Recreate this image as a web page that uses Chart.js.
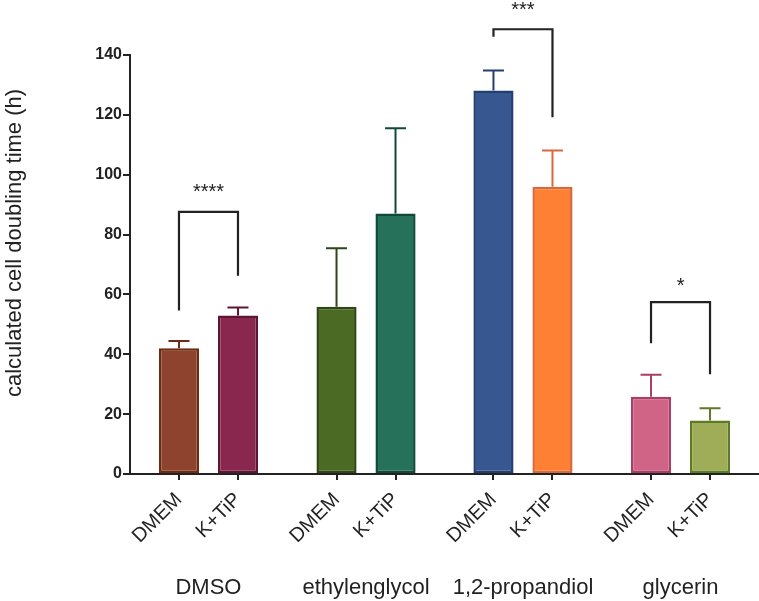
<!DOCTYPE html>
<html>
<head>
<meta charset="utf-8">
<script src="https://cdn.jsdelivr.net/npm/chart.js@4.4.0/dist/chart.umd.min.js"></script>
<style>
  html, body { margin: 0; padding: 0; background: #fff; }
  canvas { display: block; }
</style>
</head>
<body>
<canvas id="doublingChart" width="759" height="601"></canvas>
<script>
// bar labels, group names and where each bar sits on the x scale
const tickLabels = ['DMEM', 'K+TiP', 'DMEM', 'K+TiP', 'DMEM', 'K+TiP', 'DMEM', 'K+TiP'];
const groups = ['DMSO', 'ethylenglycol', '1,2-propandiol', 'glycerin'];
const xPos = [0, 1, 2.67, 3.67, 5.33, 6.33, 8, 9];

// mean doubling time (h) and upper error (h)
const means = [42.0, 53.0, 55.9, 87.0, 128.1, 96.0, 25.8, 17.9];
const errUp = [2.4, 2.6, 19.5, 28.5, 6.7, 12.1, 7.4, 4.1];

const fills = ['#8e432f', '#8a274e', '#4b6a24', '#26715a', '#36578f', '#fd8034', '#cf6487', '#a0ad58'];
const edges = ['#6f2a12', '#5f1535', '#2f4615', '#10493a', '#223f70', '#d8693d', '#a93f66', '#5e7a25'];

// significance brackets: bar indexes, bracket top, leg ends, label height (all in hours)
const brackets = [
  { from: 0, to: 1, top: 87.6, left: 54.6, right: 66.2, label: '****', labelY: 96 },
  { from: 4, to: 5, top: 148.6, left: 146.1, right: 119.2, label: '***', labelY: 157 },
  { from: 6, to: 7, top: 57.4, left: 43.7, right: 33.3, label: '*', labelY: 64.8 }
];

const FONT = "'Liberation Sans', Arial, Helvetica, sans-serif";
const INK = '#222';

const extras = {
  id: 'extras',
  afterDatasetsDraw(chart) {
    const ctx = chart.ctx;
    const x = chart.scales.x, y = chart.scales.y;
    ctx.save();

    // error bars, upper side only
    ctx.lineWidth = 2;
    means.forEach((m, i) => {
      const px = x.getPixelForValue(xPos[i]);
      const y0 = y.getPixelForValue(m);
      const y1 = y.getPixelForValue(m + errUp[i]);
      ctx.strokeStyle = edges[i];
      ctx.beginPath();
      ctx.moveTo(px, y0);
      ctx.lineTo(px, y1);
      ctx.moveTo(px - 10.5, y1);
      ctx.lineTo(px + 10.5, y1);
      ctx.stroke();
    });

    // brackets
    ctx.strokeStyle = INK;
    ctx.fillStyle = INK;
    ctx.lineWidth = 2.2;
    ctx.font = '20px ' + FONT;
    ctx.textAlign = 'center';
    ctx.textBaseline = 'alphabetic';
    brackets.forEach(b => {
      const xa = x.getPixelForValue(xPos[b.from]);
      const xb = x.getPixelForValue(xPos[b.to]);
      ctx.beginPath();
      ctx.moveTo(xa, y.getPixelForValue(b.left));
      ctx.lineTo(xa, y.getPixelForValue(b.top));
      ctx.lineTo(xb, y.getPixelForValue(b.top));
      ctx.lineTo(xb, y.getPixelForValue(b.right));
      ctx.stroke();
      ctx.fillText(b.label, (xa + xb) / 2, y.getPixelForValue(b.labelY) + 11.5);
    });

    // group names under the rotated labels
    ctx.font = '22px ' + FONT;
    ctx.textBaseline = 'middle';
    groups.forEach((g, i) => {
      const cx = (x.getPixelForValue(xPos[2 * i]) + x.getPixelForValue(xPos[2 * i + 1])) / 2;
      ctx.fillText(g, cx, 588);
    });

    // y axis title
    ctx.translate(15, 243);
    ctx.rotate(-Math.PI / 2);
    ctx.font = '22px ' + FONT;
    ctx.fillText('calculated cell doubling time (h)', 0, 0);
    ctx.restore();
  }
};

new Chart(document.getElementById('doublingChart'), {
  type: 'bar',
  data: {
    datasets: [{
      data: xPos.map((v, i) => ({ x: v, y: means[i] })),
      backgroundColor: fills,
      borderColor: edges,
      borderWidth: 2.5,
      borderSkipped: false,
      barPercentage: 0.68,
      categoryPercentage: 1
    }]
  },
  options: {
    responsive: false,
    animation: false,
    layout: { padding: { top: 55, right: 0, bottom: 0, left: 0 } },
    plugins: { legend: { display: false }, tooltip: { enabled: false } },
    scales: {
      x: {
        type: 'linear',
        offset: false,
        min: -0.83,
        max: 9.83,
        afterBuildTicks: s => { s.ticks = xPos.map(v => ({ value: v })); },
        afterFit: s => { s.height = 127; },
        grid: { offset: false, drawOnChartArea: false, color: INK, lineWidth: 2, tickLength: 6 },
        border: { color: INK, width: 2 },
        ticks: {
          autoSkip: false,
          minRotation: 45,
          maxRotation: 45,
          padding: 8,
          color: INK,
          font: { family: FONT, size: 20 },
          callback: (v, i) => tickLabels[i]
        }
      },
      y: {
        min: 0,
        max: 140,
        afterFit: s => { s.width = 130; },
        grid: { drawOnChartArea: false, color: INK, lineWidth: 2, tickLength: 7 },
        border: { color: INK, width: 2 },
        ticks: {
          stepSize: 20,
          padding: 1,
          color: INK,
          font: { family: FONT, size: 16, weight: 'bold' }
        }
      }
    }
  },
  plugins: [extras]
});
</script>
</body>
</html>
